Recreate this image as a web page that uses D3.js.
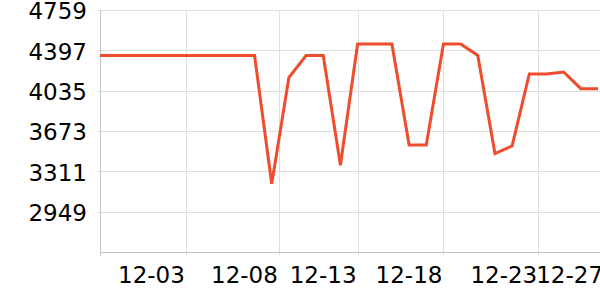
<!DOCTYPE html>
<html>
<head>
<meta charset="utf-8">
<script src="https://cdn.jsdelivr.net/npm/d3@7"></script>
<style>
  html, body { margin: 0; padding: 0; background: #fff; }
  svg { display: block; }
  text { font-family: "DejaVu Sans", sans-serif; fill: #000; }
</style>
</head>
<body>
<svg id="chart" width="600" height="300"></svg>
<script>
// ---- data ----
const dates = [
  "2023-11-28","2023-11-29","2023-11-30","2023-12-01","2023-12-02","2023-12-03",
  "2023-12-04","2023-12-05","2023-12-06","2023-12-07","2023-12-08","2023-12-09",
  "2023-12-10","2023-12-11","2023-12-12","2023-12-13","2023-12-14","2023-12-15",
  "2023-12-16","2023-12-17","2023-12-18","2023-12-19","2023-12-20","2023-12-21",
  "2023-12-22","2023-12-23","2023-12-24","2023-12-25","2023-12-26","2023-12-27"
];
const values = [
  4351, 4351, 4351, 4351, 4351, 4351, 4351, 4351, 4351, 4351,
  3200, 4153, 4351, 4351, 3365, 4454, 4454, 4454, 3547, 3547,
  4454, 4454, 4351, 3470, 3540, 4185, 4185, 4203, 4053, 4053
];
const yTicks = [2949, 3311, 3673, 4035, 4397, 4759];
const yDomain = [2587, 4759];
const xTickDates = [
  "2023-12-03T00:00", "2023-12-08T10:00", "2023-12-13T00:00",
  "2023-12-18T00:00", "2023-12-23T12:30", "2023-12-27T08:30"
];

// ---- layout ----
const mLeft = 100, mRight = 598, mTop = 10, mBottom = 252;
const parse = d3.timeParse("%Y-%m-%d");
const parseT = d3.timeParse("%Y-%m-%dT%H:%M");
const data = dates.map((d, i) => ({ date: parse(d), value: values[i] }));
const tickDates = xTickDates.map(parseT);

const x = d3.scaleTime().domain([data[0].date, data[data.length - 1].date]).range([mLeft, mRight]);
const y = d3.scaleLinear().domain(yDomain).range([mBottom, mTop]);

const svg = d3.select("#chart");
const gridColor = "#dedede";
const axisColor = "#c4c4c4";
const fmt = d3.timeFormat("%m-%d");

// horizontal gridlines
svg.append("g").selectAll("line").data(yTicks).join("line")
  .attr("x1", mLeft - 2).attr("x2", 600)
  .attr("y1", d => Math.round(y(d)) + 0.5).attr("y2", d => Math.round(y(d)) + 0.5)
  .attr("stroke", gridColor).attr("stroke-width", 1);

// vertical gridlines
svg.append("g").selectAll("line").data(tickDates).join("line")
  .attr("x1", d => Math.round(x(d)) + 0.5).attr("x2", d => Math.round(x(d)) + 0.5)
  .attr("y1", mTop).attr("y2", mBottom + 3)
  .attr("stroke", gridColor).attr("stroke-width", 1);

// y axis line
svg.append("line")
  .attr("x1", mLeft + 0.5).attr("x2", mLeft + 0.5)
  .attr("y1", mTop).attr("y2", mBottom + 4)
  .attr("stroke", axisColor).attr("stroke-width", 1);

// x axis line
svg.append("line")
  .attr("x1", mLeft).attr("x2", 600)
  .attr("y1", mBottom + 0.5).attr("y2", mBottom + 0.5)
  .attr("stroke", axisColor).attr("stroke-width", 1);

// y labels
svg.append("g").selectAll("text").data(yTicks).join("text")
  .attr("x", 87).attr("y", d => y(d) + 9.4)
  .attr("text-anchor", "end")
  .attr("font-size", 23)
  .text(d => d);

// x labels
svg.append("g").selectAll("text").data(tickDates).join("text")
  .attr("x", d => x(d) - 1).attr("y", mBottom + 31)
  .attr("text-anchor", "end")
  .attr("font-size", 23)
  .text(d => fmt(d));

// line
const line = d3.line().x(d => x(d.date)).y(d => y(d.value));
svg.append("path").datum(data)
  .attr("d", line)
  .attr("fill", "none")
  .attr("stroke", "#ef4b2d")
  .attr("stroke-width", 3);
</script>
</body>
</html>
